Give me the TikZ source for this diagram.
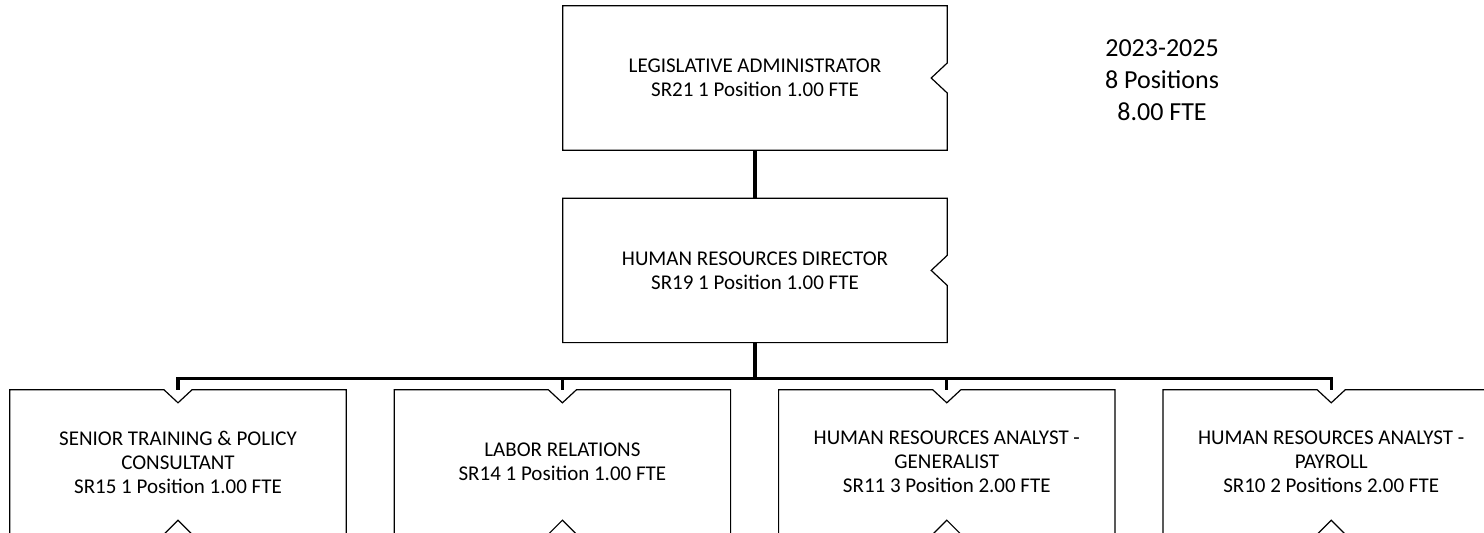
\documentclass[tikz,border=0pt]{standalone}
\usepackage{fontspec}
\setmainfont{Carlito}
\usetikzlibrary{positioning}

\begin{document}
\begin{tikzpicture}[x=1pt,y=-1pt]
\tikzstyle{every node}=[align=center,font=\fontsize{21}{24}\selectfont];
\tikzstyle{post}=[minimum width=384pt,minimum height=144pt,inner sep=0pt];
\tikzstyle{unit}=[minimum width=336pt,minimum height=144pt,inner sep=0pt];
\tikzstyle{outline}=[line width=1.2pt,line join=miter];
\tikzstyle{conn}=[line width=3.2pt];
\useasboundingbox (0,0) rectangle (1484,533);

% upper posts
\node[post] (la) at (755,78) {LEGISLATIVE ADMINISTRATOR\\SR21 1 Position 1.00 FTE};
\node[post,below=48pt of la] (hrd) {HUMAN RESOURCES DIRECTOR\\SR19 1 Position 1.00 FTE};

% units
\node[unit] (b1) at (178,462) {SENIOR TRAINING \& POLICY\\CONSULTANT\\SR15 1 Position 1.00 FTE};
\node[unit,right=48pt of b1] (b2) {LABOR RELATIONS\\SR14 1 Position 1.00 FTE};
\node[unit,right=48pt of b2] (b3) {HUMAN RESOURCES ANALYST -\\GENERALIST\\SR11 3 Position 2.00 FTE};
\node[unit,right=48pt of b3] (b4) {HUMAN RESOURCES ANALYST -\\PAYROLL\\SR10 2 Positions 2.00 FTE};

\node[font=\fontsize{26}{32}\selectfont] (fy) at (1162,80) {2023-2025\\8 Positions\\8.00 FTE};

% outlines
\foreach \n in {la,hrd}
  \draw[outline] (\n.north west) -- (\n.north east) -- ([yshift=15pt]\n.east)
    -- ([xshift=-16pt]\n.east) -- ([yshift=-15pt]\n.east) -- (\n.south east)
    -- (\n.south west) -- cycle;
\foreach \n in {b1,b2,b3,b4}
  \draw[outline] (\n.north west) -- ([xshift=-14pt]\n.north) -- ([yshift=-13pt]\n.north)
    -- ([xshift=14pt]\n.north) -- (\n.north east) -- (\n.south east)
    -- ([xshift=14pt]\n.south) -- ([yshift=14pt]\n.south) -- ([xshift=-14pt]\n.south)
    -- (\n.south west) -- cycle;

% connectors
\coordinate (bus) at ([yshift=-36pt]hrd.south);
\draw[conn] (la.south) -- (hrd.north);
\draw[conn] (hrd.south) -- (bus);
\foreach \n in {b1,b2,b3,b4}
  \draw[conn] (\n.north) |- (bus);
\end{tikzpicture}
\end{document}
